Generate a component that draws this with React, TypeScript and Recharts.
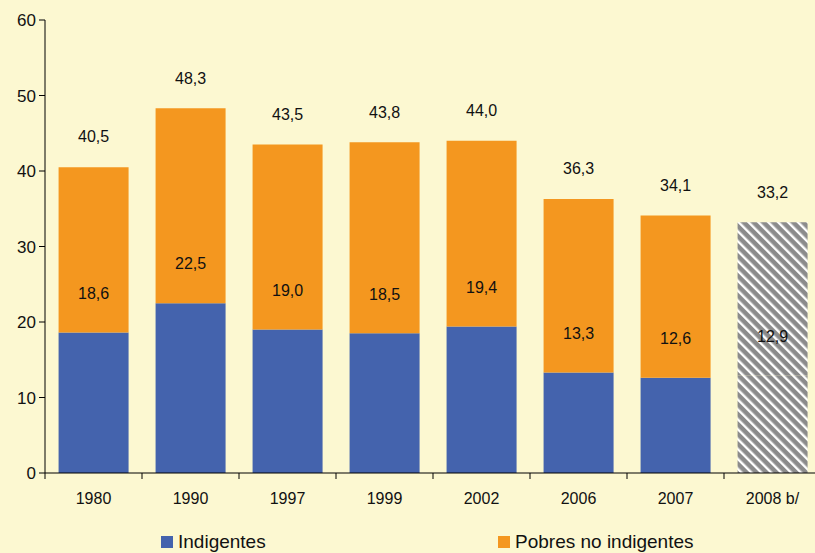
import React from 'react';
import { BarChart, Bar, XAxis, YAxis, Cell, LabelList } from 'recharts';

const years = ['1980', '1990', '1997', '1999', '2002', '2006', '2007', '2008 b/'];
const totals = [40.5, 48.3, 43.5, 43.8, 44.0, 36.3, 34.1, 33.2];
const indigentes = [18.6, 22.5, 19.0, 18.5, 19.4, 13.3, 12.6, 12.9];
const pobresNoIndigentes = [21.9, 25.8, 24.5, 25.3, 24.6, 23.0, 21.5, 20.3];
const projected = [false, false, false, false, false, false, false, true];
const yTicks = [0, 10, 20, 30, 40, 50, 60];

const BLUE = '#4463AD';
const ORANGE = '#F4971F';
const BG = '#FCF8D1';
const FONT = '"Liberation Sans", Arial, Helvetica, sans-serif';

const W = 825;
const H = 553;
const MARGIN = { top: 20, right: 4, bottom: 0, left: 8 };
const Y_WIDTH = 37;
const X_HEIGHT = 80;

const data = years.map((year, i) => ({
  year,
  total: totals[i],
  indigentes: indigentes[i],
  pobres: pobresNoIndigentes[i],
  projected: projected[i],
}));

const fmt = (v: number) => v.toFixed(1).replace('.', ',');

const halfBand = (W - MARGIN.left - MARGIN.right - Y_WIDTH) / years.length / 2;

const XTick = (props: any) => {
  const { x, y, payload } = props;
  return (
    <g>
      <line x1={x - halfBand} x2={x - halfBand} y1={y - 8} y2={y - 2} stroke="#000" strokeWidth={1} />
      <text x={x} y={y + 23} textAnchor="middle" fontSize={16} fontFamily={FONT} fill="#111">
        {payload.value}
      </text>
    </g>
  );
};

const labelAbove = (offset: number) => (props: any) => {
  const { x, y, width, value } = props;
  return (
    <text
      x={x + width / 2}
      y={y - offset}
      textAnchor="middle"
      dominantBaseline="middle"
      fontSize={16}
      fontFamily={FONT}
      fill="#111"
    >
      {fmt(Number(value))}
    </text>
  );
};

const legendItem: React.CSSProperties = {
  position: 'absolute',
  top: 531,
  display: 'flex',
  alignItems: 'center',
  fontFamily: FONT,
  fontSize: 19,
  color: '#111',
  whiteSpace: 'nowrap',
};

export default function App() {
  return (
    <div style={{ position: 'absolute', left: 0, top: 0, width: 815, height: 553, overflow: 'hidden', background: BG }}>
      <svg width={0} height={0} style={{ position: 'absolute' }}>
        <defs>
          <pattern id="hatch" patternUnits="userSpaceOnUse" width={7} height={7} patternTransform="rotate(-45)">
            <rect x={0} y={0} width={7} height={7} fill="#8B8B8B" />
            <rect x={0} y={0} width={2.4} height={7} fill="#FFFFFF" />
          </pattern>
        </defs>
      </svg>
      <BarChart width={W} height={H} data={data} margin={MARGIN} barCategoryGap="14%">
        <YAxis
          domain={[0, 60]}
          ticks={yTicks}
          width={Y_WIDTH}
          tickSize={6}
          tickMargin={3}
          axisLine={{ stroke: '#000' }}
          tickLine={{ stroke: '#000' }}
          tick={{ fontSize: 17, fontFamily: FONT, fill: '#111' }}
        />
        <XAxis
          dataKey="year"
          height={X_HEIGHT}
          interval={0}
          axisLine={{ stroke: '#000' }}
          tickLine={false}
          tick={<XTick />}
        />
        <Bar dataKey="indigentes" stackId="a" fill={BLUE} isAnimationActive={false}>
          {data.map((d, i) => (
            <Cell key={i} fill={d.projected ? 'url(#hatch)' : BLUE} />
          ))}
          <LabelList dataKey="indigentes" content={labelAbove(38)} />
        </Bar>
        <Bar dataKey="pobres" stackId="a" fill={ORANGE} isAnimationActive={false}>
          {data.map((d, i) => (
            <Cell key={i} fill={d.projected ? 'url(#hatch)' : ORANGE} />
          ))}
          <LabelList dataKey="total" content={labelAbove(29)} />
        </Bar>
      </BarChart>
      <div style={{ ...legendItem, left: 161 }}>
        <span style={{ width: 12, height: 12, background: BLUE, display: 'inline-block', marginRight: 5 }} />
        Indigentes
      </div>
      <div style={{ ...legendItem, left: 498 }}>
        <span style={{ width: 12, height: 12, background: ORANGE, display: 'inline-block', marginRight: 5 }} />
        Pobres no indigentes
      </div>
    </div>
  );
}
